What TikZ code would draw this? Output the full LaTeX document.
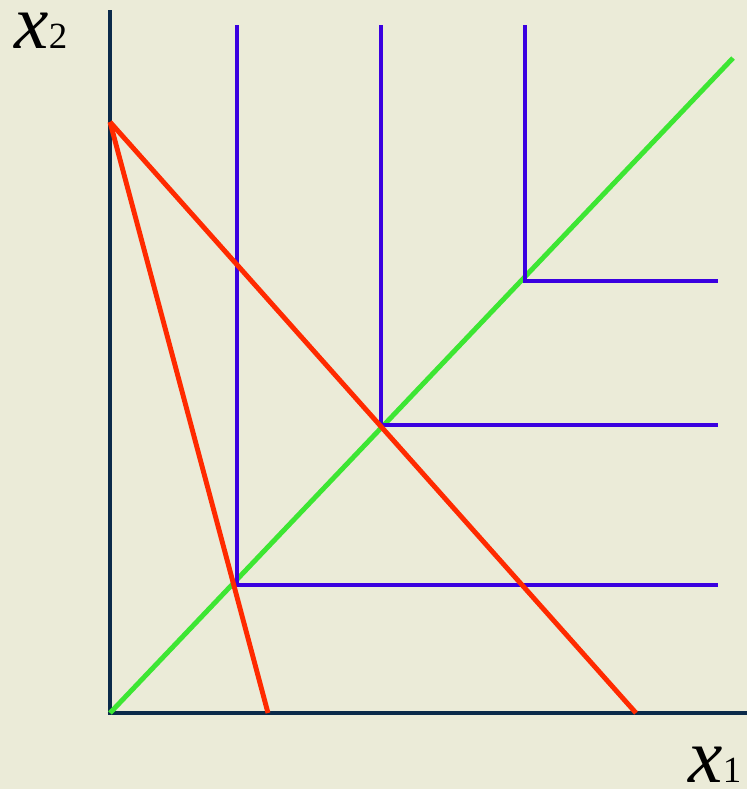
\documentclass[tikz,border=0pt]{standalone}
\usepackage{fontspec}
\setmainfont{Liberation Serif}
\definecolor{fond}{HTML}{EBEBD8}
\definecolor{axe}{HTML}{0B2A4A}
\definecolor{rouge}{HTML}{FF2A00}
\definecolor{vert}{HTML}{3DE633}
\definecolor{bleu}{HTML}{3A00E0}
\newcommand{\grandx}[1]{{\fontsize{44}{44}\selectfont\itshape x}{\fontsize{21}{21}\selectfont #1}}
\begin{document}
\begin{tikzpicture}[x=0.02cm, y=-0.02cm, line width=2.8pt]

    % Fond
    \fill[fond] (0,0) rectangle (747,789);
    \useasboundingbox (0,0) rectangle (747,789);

    % Points
    \coordinate (O)  at (110,713);
    \coordinate (Y)  at (110,10);
    \coordinate (X)  at (747,713);
    \coordinate (D)  at (733,58);
    \coordinate (R)  at (110,122);
    \coordinate (R1) at (268,713);
    \coordinate (R2) at (636,713);
    \coordinate (C1) at (237,585);
    \coordinate (C2) at (381,425);
    \coordinate (C3) at (525,281);
    \coordinate (H1) at (237,25);
    \coordinate (H2) at (381,25);
    \coordinate (H3) at (525,25);
    \coordinate (B1) at (718,585);
    \coordinate (B2) at (718,425);
    \coordinate (B3) at (718,281);

    % Axes
    \draw[axe] (Y) -- (O) -- (X);
    \node[anchor=base west, inner sep=0] (lx2) at (12,48) {\grandx{2}};
    \node[anchor=base west, inner sep=0] (lx1) at (686,782) {\grandx{1}};

    % Droite verte
    \draw[vert] (O) -- (D);

    % Isoquantes en L
    \draw[bleu] (H1) -- (C1) -- (B1);
    \draw[bleu] (H2) -- (C2) -- (B2);
    \draw[bleu] (H3) -- (C3) -- (B3);

    % Droites rouges
    \draw[rouge] (R) -- (R1);
    \draw[rouge] (R) -- (R2);

\end{tikzpicture}
\end{document}
